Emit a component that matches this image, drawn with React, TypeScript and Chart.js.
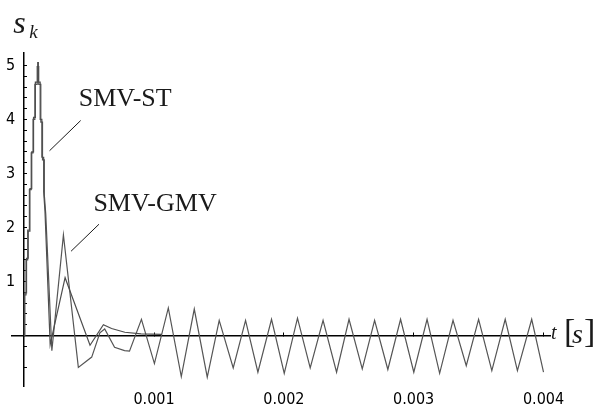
import { useEffect, useRef } from "react";
import { Chart, registerables } from "chart.js";

Chart.register(...registerables);

// time in milliseconds, values dimensionless
const stTime = [
  0, 0.005, 0.005, 0.018, 0.018, 0.031, 0.031, 0.044, 0.044, 0.058, 0.058, 0.072, 0.072,
  0.086, 0.086, 0.104, 0.104, 0.109, 0.109, 0.123, 0.123, 0.136, 0.136, 0.15, 0.15, 0.16,
  0.2, 0.315, 0.507, 0.61, 0.673, 0.775, 0.9, 1.06,
];
const stValue = [
  0, 0, 0.79, 0.79, 1.43, 1.43, 1.93, 1.93, 2.72, 2.72, 3.4, 3.4, 4.04,
  4.04, 4.69, 4.69, 5.05, 5.05, 4.69, 4.69, 4.0, 4.0, 3.3, 3.3, 2.66, 2.3,
  -0.17, 1.07, -0.18, 0.2, 0.13, 0.06, 0.03, 0.02,
];

const gmvTime = [
  0, 0.001, 0.001, 0.014, 0.014, 0.027, 0.027, 0.04, 0.04, 0.054, 0.054, 0.068, 0.068,
  0.082, 0.082, 0.1, 0.1, 0.112, 0.112, 0.128, 0.128, 0.141, 0.141, 0.155, 0.155, 0.166,
  0.213, 0.302, 0.417, 0.52, 0.583, 0.62, 0.696, 0.773, 0.811, 0.903, 1.003,
  1.11, 1.21, 1.31, 1.41, 1.502, 1.61, 1.705, 1.8, 1.905, 2.003, 2.105, 2.203,
  2.302, 2.406, 2.502, 2.604, 2.699, 2.801, 2.899, 3.001, 3.103, 3.2, 3.303,
  3.405, 3.5, 3.602, 3.705, 3.799, 3.909, 4.0,
];
const gmvValue = [
  0, 0, 0.75, 0.75, 1.4, 1.4, 1.95, 1.95, 2.7, 2.7, 3.38, 3.38, 4.0,
  4.0, 4.65, 4.65, 4.98, 4.98, 4.65, 4.65, 3.95, 3.95, 3.25, 3.25, 2.6, 2.25,
  -0.28, 1.86, -0.59, -0.4, 0.05, 0.12, -0.22, -0.28, -0.29, 0.3, -0.52,
  0.51, -0.76, 0.49, -0.77, 0.28, -0.6, 0.28, -0.68, 0.3, -0.7, 0.32, -0.6,
  0.28, -0.68, 0.3, -0.62, 0.28, -0.63, 0.3, -0.68, 0.3, -0.7, 0.28,
  -0.56, 0.3, -0.65, 0.3, -0.65, 0.3, -0.68,
];

const seriesNames = ["SMV-ST", "SMV-GMV"];

const xTickValues = [1, 2, 3, 4];
const xTickLabels = ["0.001", "0.002", "0.003", "0.004"];
const yTickValues = [
  -0.6, -0.2, 0.2, 0.4, 0.6, 0.8, 1, 1.2, 1.4, 1.6, 1.8, 2, 2.2, 2.4, 2.6, 2.8, 3,
  3.2, 3.4, 3.6, 3.8, 4, 4.2, 4.4, 4.6, 4.8, 5,
];
const yLabelValues = [1, 2, 3, 4, 5];

// callouts: label anchor and leader line (data units)
const callouts = [
  { text: seriesNames[0], at: [0.42, 4.24], from: [0.435, 3.98], to: [0.195, 3.42] },
  { text: seriesNames[1], at: [0.533, 2.3], from: [0.576, 2.06], to: [0.361, 1.56] },
];

const tickFont = { family: "'Liberation Sans Narrow', 'DejaVu Sans Condensed', sans-serif", size: 16 };
const X_MIN = -0.094;
const X_MAX = 4.05;
const Y_MIN = -0.95;
const Y_MAX = 5.23;

const decorPlugin = {
  id: "decor",
  afterDraw(chart: any) {
    const ctx = chart.ctx;
    const xs = chart.scales.x;
    const ys = chart.scales.y;
    ctx.save();
    ctx.fillStyle = "#1a1a1a";
    ctx.strokeStyle = "#1a1a1a";
    ctx.lineWidth = 1;
    ctx.textBaseline = "alphabetic";
    ctx.textAlign = "left";
    ctx.font = "26px 'Liberation Serif', serif";
    for (const c of callouts) {
      ctx.fillText(c.text, xs.getPixelForValue(c.at[0]), ys.getPixelForValue(c.at[1]));
      ctx.beginPath();
      ctx.moveTo(xs.getPixelForValue(c.from[0]), ys.getPixelForValue(c.from[1]));
      ctx.lineTo(xs.getPixelForValue(c.to[0]), ys.getPixelForValue(c.to[1]));
      ctx.stroke();
    }
    // y axis title s_k
    const yAxisX = xs.getPixelForValue(0);
    const top = chart.chartArea.top;
    ctx.font = "italic 32px 'Liberation Serif', serif";
    ctx.fillText("s", yAxisX - 11, top - 20);
    ctx.font = "italic 19px 'Liberation Serif', serif";
    ctx.fillText("k", yAxisX + 5, top - 15);
    // x axis title t [s]
    const zeroY = ys.getPixelForValue(0);
    const right = chart.chartArea.right;
    ctx.font = "italic 20px 'Liberation Serif', serif";
    ctx.fillText("t", right + 1, zeroY + 4);
    ctx.font = "34px 'Liberation Serif', serif";
    ctx.fillText("[", right + 14, zeroY + 7);
    ctx.fillText("]", right + 34, zeroY + 7);
    ctx.font = "italic 28px 'Liberation Serif', serif";
    ctx.fillText("s", right + 22, zeroY + 8);
    ctx.restore();
  },
};

export default function App() {
  const ref = useRef<HTMLCanvasElement | null>(null);
  useEffect(() => {
    if (!ref.current) return;
    const mk = (t: number[], v: number[]) => t.map((x, i) => ({ x, y: v[i] }));
    const chart = new Chart(ref.current, {
      type: "line",
      data: {
        datasets: [
          {
            label: seriesNames[0],
            data: mk(stTime, stValue),
            borderColor: "#4d4d4d",
            borderWidth: 1.2,
            pointRadius: 0,
            tension: 0,
            fill: false,
            xAxisID: "x",
            yAxisID: "y",
          },
          {
            label: seriesNames[1],
            data: mk(gmvTime, gmvValue),
            borderColor: "#555555",
            borderWidth: 1.2,
            pointRadius: 0,
            tension: 0,
            fill: false,
            xAxisID: "x",
            yAxisID: "y",
          },
        ],
      },
      options: {
        animation: false,
        responsive: false,
        events: [],
        layout: { padding: { left: 12, right: 51, top: 53, bottom: -2 } },
        plugins: { legend: { display: false }, tooltip: { enabled: false } },
        scales: {
          x: {
            type: "linear",
            min: X_MIN,
            max: X_MAX,
            position: { y: 0 } as any,
            grid: { display: true, drawOnChartArea: false, drawTicks: true, tickLength: -4, color: "#000", tickColor: "#000", tickWidth: 1 },
            border: { display: true, color: "#000", width: 1.5 },
            ticks: { display: false },
            afterBuildTicks: (s: any) => {
              s.ticks = xTickValues.map((value) => ({ value }));
            },
          },
          xb: {
            type: "linear",
            position: "bottom",
            min: X_MIN,
            max: X_MAX,
            grid: { display: false, drawTicks: false },
            border: { display: false },
            ticks: {
              padding: 3,
              maxRotation: 0,
              autoSkip: false,
              color: "#000",
              font: tickFont,
              callback: (value: any) => {
                const i = xTickValues.indexOf(Number(value));
                return i >= 0 ? xTickLabels[i] : "";
              },
            },
            afterBuildTicks: (s: any) => {
              s.ticks = xTickValues.map((value) => ({ value }));
            },
          },
          y: {
            type: "linear",
            min: Y_MIN,
            max: Y_MAX,
            position: { x: 0 } as any,
            grid: { display: true, drawOnChartArea: false, drawTicks: true, tickLength: -4, color: "#000", tickColor: "#000", tickWidth: 1 },
            border: { display: true, color: "#000", width: 1.5 },
            ticks: { display: false },
            afterBuildTicks: (s: any) => {
              s.ticks = yTickValues.map((value) => ({ value }));
            },
          },
          yl: {
            type: "linear",
            position: "left",
            min: Y_MIN,
            max: Y_MAX,
            grid: { display: false, drawTicks: false },
            border: { display: false },
            ticks: {
              mirror: true,
              padding: -2,
              autoSkip: false,
              color: "#000",
              font: tickFont,
              callback: (value: any) => String(value),
            },
            afterBuildTicks: (s: any) => {
              s.ticks = yLabelValues.map((value) => ({ value }));
            },
          },
        },
      },
      plugins: [decorPlugin],
    });
    return () => chart.destroy();
  }, []);
  return (
    <div style={{ position: "absolute", left: 0, top: 0, width: 601, height: 410, background: "#fff" }}>
      <canvas ref={ref} width={601} height={410} style={{ display: "block" }} />
    </div>
  );
}
